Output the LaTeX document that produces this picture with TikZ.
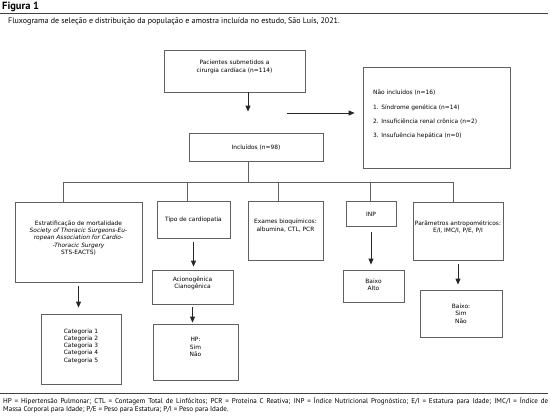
\documentclass[tikz,border=0pt]{standalone}
\usepackage{fontspec}
\setmainfont{PT Sans}
\newfontfamily\boxfont{DejaVu Sans}
\usetikzlibrary{arrows.meta}
\definecolor{boxgray}{HTML}{606060}
\begin{document}
\begin{tikzpicture}[x=1pt,y=-1pt,
  box/.style={draw=boxgray, line width=0.8pt, inner sep=0pt},
  lab/.style={font=\boxfont\fontsize{5.9}{7.3}\selectfont, align=center, inner sep=0pt, text=black},
  arr/.style={draw=black!85, line width=0.8pt, -{Triangle[width=5pt,length=6pt]}},
  con/.style={draw=boxgray, line width=0.8pt}]
\useasboundingbox (0,0) rectangle (550,416);

% header
\node[anchor=west, inner sep=0pt, font=\bfseries\fontsize{10.5}{11}\selectfont] (fig) at (2,6.5) {Figura 1};
\draw[line width=1.3pt, black!75] (0,13.5) -- (548,13.5);
\node[anchor=west, inner sep=0pt, font=\fontsize{8}{9}\selectfont] (cap) at (8,21.5)
  {Fluxograma de seleção e distribuição da população e amostra incluída no estudo, São Luís, 2021.};

% boxes
\node[box, minimum width=141pt, minimum height=42pt,
  label={[lab,yshift=4pt]center:{Pacientes submetidos a\\cirurgia cardíaca (n=114)}}] (pac) at (234.5,71) {};
\node[box, minimum width=134pt, minimum height=28pt,
  label={[lab,yshift=-1pt]center:{Incluídos (n=98)}}] (incl) at (256,147) {};
\node[box, minimum width=147pt, minimum height=101pt] (nao) at (436.5,117.5) {};
\node[lab, align=left, anchor=west] (naotxt) at (373,114.5)
  {Não incluídos (n=16)\\[7pt]1. Síndrome genética (n=14)\\[7pt]2. Insuficiência renal crônica (n=2)\\[7pt]3. Insufuência hepática (n=0)};

\node[box, minimum width=127pt, minimum height=80pt,
  label={[lab,yshift=4pt]center:{Estratificação de mortalidade\\{\itshape Society of Thoracic Surgeons-Eu-}\\{\itshape ropean Association for Cardio-}\\{\itshape -Thoracic Surgery}\\STS-EACTS)}}] (estr) at (78.5,242) {};
\node[box, minimum width=73pt, minimum height=37pt,
  label={[lab]center:{Tipo de cardiopatia}}] (tipo) at (193.5,219.5) {};
\node[box, minimum width=75pt, minimum height=59pt,
  label={[lab,yshift=5pt]center:{Exames bioquímicos:\\albumina, CTL, PCR}}] (exam) at (285.5,230.5) {};
\node[box, minimum width=50pt, minimum height=25pt,
  label={[lab,yshift=-1pt]center:{INP}}] (inp) at (371,213.5) {};
\node[box, minimum width=90pt, minimum height=58pt,
  label={[lab,yshift=4pt]center:{Parâmetros antropométricos:\\E/I, IMC/I, P/E, P/I}}] (param) at (458,231) {};

\node[box, minimum width=81pt, minimum height=34pt,
  label={[lab,yshift=4pt]center:{Acionogênica\\Cianogênica}}] (acion) at (192.5,287) {};
\node[box, minimum width=61pt, minimum height=32pt,
  label={[lab,yshift=1.5pt]center:{Baixo\\Alto}}] (balto) at (373.5,286) {};
\node[box, minimum width=82pt, minimum height=47pt,
  label={[lab]center:{Baixo:\\Sim\\Não}}] (bsn) at (461,313.5) {};
\node[box, minimum width=80pt, minimum height=70pt,
  label={[lab,yshift=3pt]center:{Categoria 1\\Categoria 2\\Categoria 3\\Categoria 4\\Categoria 5}}] (cat) at (81,349) {};
\node[box, minimum width=85pt, minimum height=56pt,
  label={[lab,yshift=5pt]center:{HP:\\Sim\\Não}}] (hp) at (195.5,352) {};

% connectors
\coordinate (j) at (248,182);
\coordinate (h1) at (63,182);
\coordinate (h2) at (187,182);
\coordinate (h3) at (278,182);
\coordinate (h4) at (370,182);
\coordinate (h5) at (453,182);
\draw[arr, shorten >=21pt] (pac.south -| j) -- (incl.north -| j);
\coordinate (hs) at (287,113);
\draw[arr, shorten >=8pt] (hs) -- (hs -| nao.west);
\draw[con] (incl.south -| j) -- (j);
\draw[con] (h1) -- (h5);
\draw[con] (h1) -- (h1 |- estr.north);
\draw[con] (h2) -- (h2 |- tipo.north);
\draw[con] (h3) -- (h3 |- exam.north);
\draw[con] (h4) -- (h4 |- inp.north);
\draw[con] (h5) -- (h5 |- param.north);

\draw[arr, shorten <=4pt, shorten >=6pt] (estr.south) -- (estr.south |- cat.north);
\draw[arr, shorten <=4pt, shorten >=3pt] (tipo.south) -- (tipo.south |- acion.north);
\draw[arr, shorten <=6pt, shorten >=5pt] (inp.south) -- (inp.south |- balto.north);
\draw[arr, shorten <=4pt, shorten >=5pt] (param.south) -- (param.south |- bsn.north);
\draw[arr, shorten <=3pt, shorten >=1pt] (acion.south) -- (acion.south |- hp.north);

% footnote
\draw[line width=1pt, black!75] (0,393) -- (548,393);
\node[anchor=north west, text width=545pt, align=justify, inner sep=0pt,
  font=\fontsize{7.05}{8}\selectfont] (foot) at (3,397.5)
  {HP = Hipertensão Pulmonar; CTL = Contagem Total de Linfócitos; PCR = Proteína C Reativa; INP = Índice Nutricional Prognóstico; E/I = Estatura para Idade; IMC/I = Índice de\linebreak Massa Corporal para Idade; P/E = Peso para Estatura; P/I = Peso para Idade.};
\end{tikzpicture}
\end{document}
